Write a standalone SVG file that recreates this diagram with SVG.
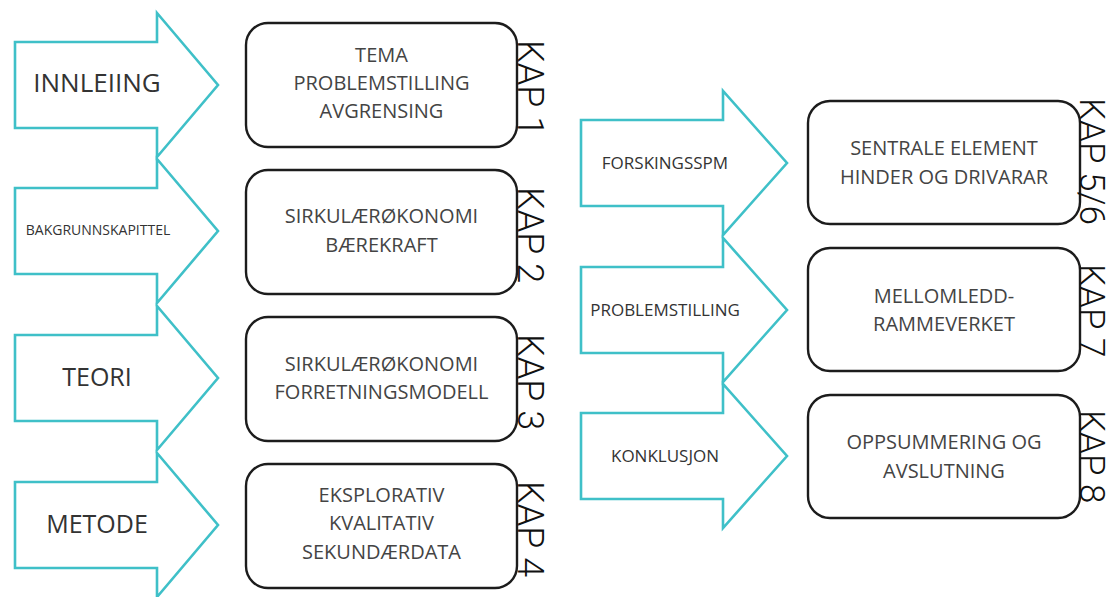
<svg xmlns="http://www.w3.org/2000/svg" width="1114" height="597" viewBox="0 0 1114 597">
<style>
.bg{fill:#ffffff}
.arrow{fill:#ffffff;stroke:#3fc0c8;stroke-width:2.6;stroke-linejoin:miter}
.box{fill:#ffffff;stroke:#1c1c1c;stroke-width:2.4}
.lbl{font-family:"Open Sans","Liberation Sans",sans-serif;fill:#333333;text-anchor:middle}
.bt{font-family:"Open Sans","Liberation Sans",sans-serif;font-size:20px;fill:#444444;text-anchor:middle}
.kap{font-family:Roboto,"Liberation Sans",sans-serif;font-size:36px;font-weight:300;fill:#111111}
.kapr{font-size:35px}
</style>
<rect class="bg" x="0" y="0" width="1114" height="597"/>
<g id="connectors"></g>

<g id="arrow-innleiing">
<path class="arrow" d="M15,42 H157 V13 L218,85 L157,157 V128 H15 Z"/>
<text class="lbl" x="97" y="92" font-size="26">INNLEIING</text>
</g>
<g id="arrow-bakgrunn">
<path class="arrow" d="M15,188 H157 V159 L218,231 L157,303 V274 H15 Z"/>
<text class="lbl" x="98" y="235" font-size="14">BAKGRUNNSKAPITTEL</text>
</g>
<g id="arrow-teori">
<path class="arrow" d="M15,335 H157 V306 L218,378 L157,450 V421 H15 Z"/>
<text class="lbl" x="97" y="386" font-size="25">TEORI</text>
</g>
<g id="arrow-metode">
<path class="arrow" d="M15,482 H157 V453 L218,525 L157,597 V568 H15 Z"/>
<text class="lbl" x="97" y="533" font-size="25">METODE</text>
</g>

<g id="box-kap1">
<rect class="box" x="246" y="23" width="271" height="124" rx="22"/>
<text class="bt" x="381.5" y="62">TEMA</text>
<text class="bt" x="381.5" y="90">PROBLEMSTILLING</text>
<text class="bt" x="381.5" y="118">AVGRENSING</text>
<text class="kap" transform="translate(518,40) rotate(90)">KAP 1</text>
</g>
<g id="box-kap2">
<rect class="box" x="246" y="170" width="271" height="124" rx="22"/>
<text class="bt" x="381.5" y="223">SIRKULÆRØKONOMI</text>
<text class="bt" x="381.5" y="252">BÆREKRAFT</text>
<text class="kap" transform="translate(518,187) rotate(90)">KAP 2</text>
</g>
<g id="box-kap3">
<rect class="box" x="246" y="317" width="271" height="124" rx="22"/>
<text class="bt" x="381.5" y="371">SIRKULÆRØKONOMI</text>
<text class="bt" x="381.5" y="399">FORRETNINGSMODELL</text>
<text class="kap" transform="translate(518,334) rotate(90)">KAP 3</text>
</g>
<g id="box-kap4">
<rect class="box" x="246" y="464" width="271" height="124" rx="22"/>
<text class="bt" x="381.5" y="502">EKSPLORATIV</text>
<text class="bt" x="381.5" y="530">KVALITATIV</text>
<text class="bt" x="381.5" y="559">SEKUNDÆRDATA</text>
<text class="kap" transform="translate(518,481) rotate(90)">KAP 4</text>
</g>

<g id="arrow-forskingsspm">
<path class="arrow" d="M581,120 H723 V91 L787,163 L723,235 V206 H581 Z"/>
<text class="lbl" x="665" y="169" font-size="17">FORSKINGSSPM</text>
</g>
<g id="arrow-problemstilling">
<path class="arrow" d="M581,267 H723 V238 L787,310 L723,382 V353 H581 Z"/>
<text class="lbl" x="665" y="316" font-size="17">PROBLEMSTILLING</text>
</g>
<g id="arrow-konklusjon">
<path class="arrow" d="M581,413 H723 V384 L787,456 L723,528 V499 H581 Z"/>
<text class="lbl" x="665" y="462" font-size="17">KONKLUSJON</text>
</g>

<g id="box-kap56">
<rect class="box" x="808" y="101" width="272" height="123" rx="22"/>
<text class="bt" x="944" y="155">SENTRALE ELEMENT</text>
<text class="bt" x="944" y="184">HINDER OG DRIVARAR</text>
<text class="kap kapr" transform="translate(1080,98) rotate(90)">KAP 5/6</text>
</g>
<g id="box-kap7">
<rect class="box" x="808" y="248" width="272" height="123" rx="22"/>
<text class="bt" x="944" y="303">MELLOMLEDD-</text>
<text class="bt" x="944" y="331">RAMMEVERKET</text>
<text class="kap kapr" transform="translate(1080,264) rotate(90)">KAP 7</text>
</g>
<g id="box-kap8">
<rect class="box" x="808" y="395" width="272" height="123" rx="22"/>
<text class="bt" x="944" y="449">OPPSUMMERING OG</text>
<text class="bt" x="944" y="478">AVSLUTNING</text>
<text class="kap kapr" transform="translate(1080,410) rotate(90)">KAP 8</text>
</g>
</svg>
